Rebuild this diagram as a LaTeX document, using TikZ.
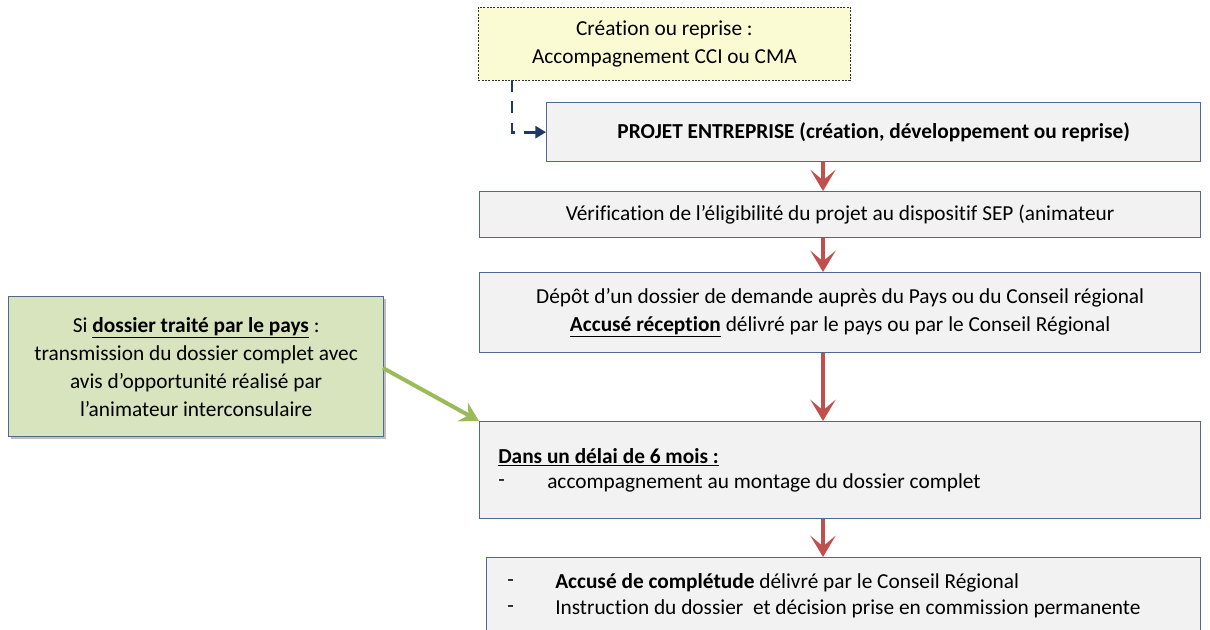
\documentclass[tikz,border=0pt]{standalone}
\usepackage{fontspec}
\setmainfont{Carlito}[Ligatures=NoCommon]
\usetikzlibrary{arrows.meta,shadows}
\definecolor{boxline}{HTML}{52698F}
\definecolor{boxfill}{HTML}{F2F2F2}
\definecolor{yellowfill}{HTML}{FBFBD3}
\definecolor{greenfill}{HTML}{D7E4BD}
\definecolor{redarrowc}{HTML}{C0504D}
\definecolor{greenarrowc}{HTML}{9BBB59}
\definecolor{navy}{HTML}{1F3864}
\begin{document}
\begin{tikzpicture}[x=0.75pt,y=-0.75pt,font=\fontsize{16}{21}\selectfont,
  flowbox/.style={draw=boxline, line width=1pt, fill=boxfill, inner sep=0pt, align=center, anchor=north west},
  txt/.style={inner sep=0pt, anchor=west},
  redarrow/.style={draw=redarrowc, line width=3.6pt, -{Stealth[length=16pt,width=19pt,inset=8pt]}},
  greenarrow/.style={draw=greenarrowc, line width=3pt, -{Stealth[length=14pt,width=16pt,inset=5pt]}},
  dasharrow/.style={draw=navy, line width=2.2pt, dash pattern=on 9pt off 7pt, -{Triangle[length=8pt,width=9pt]}}]
\useasboundingbox (0,0) rectangle (1210,630);

\node[flowbox, draw=black!80, line width=0.6pt, dash pattern=on 1.5pt off 1pt, fill=yellowfill,
  minimum width=372*0.75pt, minimum height=73*0.75pt] (creation) at (478,7)
  {Création ou reprise :\\Accompagnement CCI ou CMA};

\node[flowbox, minimum width=654*0.75pt, minimum height=59*0.75pt, font=\fontsize{16}{21}\selectfont\bfseries] (projet) at (546,102)
  {PROJET ENTREPRISE (création, développement ou reprise)};

\node[flowbox, minimum width=721*0.75pt, minimum height=46*0.75pt] (verif) at (479,191)
  {Vérification de l’éligibilité du projet au dispositif SEP (animateur};

\node[flowbox, minimum width=721*0.75pt, minimum height=80*0.75pt] (depot) at (479,272)
  {Dépôt d’un dossier de demande auprès du Pays ou du Conseil régional\\\underline{\textbf{Accusé réception}} délivré par le pays ou par le Conseil Régional};

\node[flowbox, minimum width=721*0.75pt, minimum height=97*0.75pt] (delai) at (479,421) {};
\node[txt] (delai1) at (498,457) {\bfseries\underline{Dans un délai de 6 mois :}};
\node[txt] (delaidash) at (498,483) {-};
\node[txt] (delai2) at (547,483) {accompagnement au montage du dossier complet};

\node[flowbox, minimum width=714*0.75pt, minimum height=90*0.75pt] (final) at (486,557) {};
\node[txt] (finaldash1) at (507,583) {-};
\node[txt] (final1) at (555,583) {\textbf{Accusé de complétude} délivré par le Conseil Régional};
\node[txt] (finaldash2) at (507,609) {-};
\node[txt] (final2) at (555,609) {Instruction du dossier\ \ et décision prise en commission permanente};

\node[flowbox, fill=greenfill, minimum width=375*0.75pt, minimum height=140*0.75pt,
  drop shadow={shadow xshift=1.5pt, shadow yshift=-1.5pt, fill=black, opacity=0.25}] (pays) at (8,296)
  {Si \underline{\textbf{dossier traité par le pays}} :\\transmission du dossier complet avec\\avis d’opportunité réalisé par\\l’animateur interconsulaire};

% connectors
\coordinate (ax) at (823,0);
\draw[redarrow] (ax |- projet.south) -- (ax |- verif.north);
\draw[redarrow] (ax |- verif.south) -- (ax |- depot.north);
\draw[redarrow] (ax |- depot.south) -- (ax |- delai.north);
\draw[redarrow] (ax |- delai.south) -- (ax |- final.north);

\coordinate (dstart) at (512,80);
\draw[dasharrow] (dstart) |- (projet.west);

\coordinate (gstart) at (383,368);
\draw[greenarrow] (gstart) -- (delai.north west);
\end{tikzpicture}
\end{document}
